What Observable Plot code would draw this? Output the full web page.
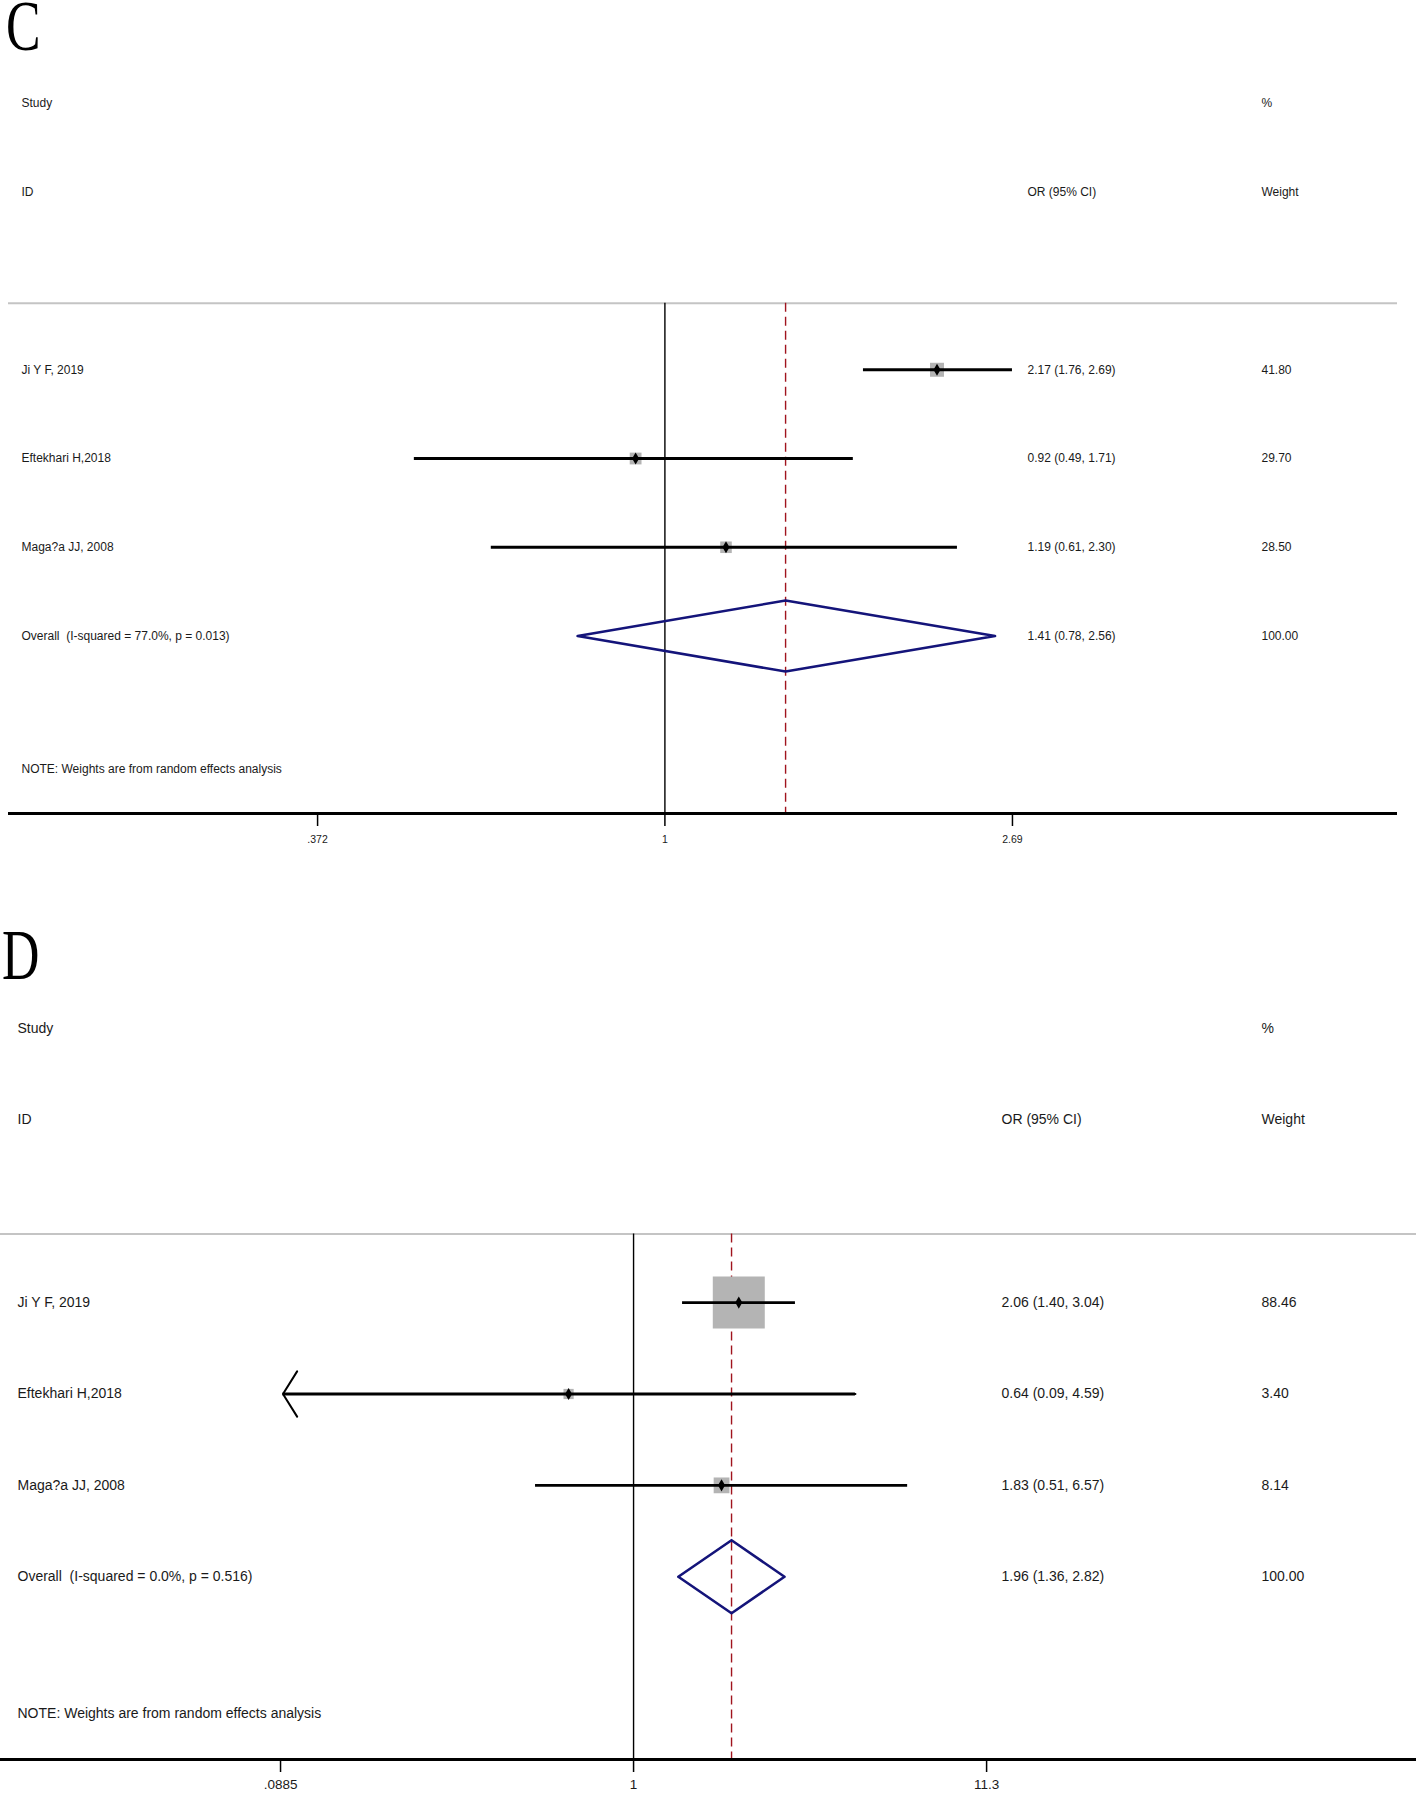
<!DOCTYPE html>
<html><head><meta charset="utf-8">
<script src="https://cdn.jsdelivr.net/npm/d3@7"></script>
<script src="https://cdn.jsdelivr.net/npm/@observablehq/plot@0.6"></script>
<style>
body{margin:0;background:#fff;}
.panel{position:relative;width:1418px;}
.letter{position:absolute;font-family:"Liberation Serif","Times New Roman",serif;font-size:72px;line-height:52px;color:#000;transform:scaleX(0.72);transform-origin:left top;}
svg{display:block}
</style></head><body>
<div id="c" class="panel"><div class="letter" style="left:6px;top:0px">C</div></div>
<div id="d" class="panel"><div class="letter" style="left:2px;top:59.4px">D</div></div>
<script>
// ---------- data ----------
const studies = ["Ji Y F, 2019", "Eftekhari H,2018", "Maga?a JJ, 2008"];

// Panel C
const orC = [2.17, 0.92, 1.19];
const loC = [1.76, 0.49, 0.61];
const hiC = [2.69, 1.71, 2.30];
const weightC = [41.80, 29.70, 28.50];
const overallC = [1.41, 0.78, 2.56];
const overallLabelC = "Overall  (I-squared = 77.0%, p = 0.013)";
const ticksC = [0.372, 1, 2.69];
const tickLabelsC = [".372", "1", "2.69"];
const offscaleC = [false, false, false];

// Panel D
const orD = [2.06, 0.64, 1.83];
const loD = [1.40, 0.09, 0.51];
const hiD = [3.04, 4.59, 6.57];
const weightD = [88.46, 3.40, 8.14];
const overallD = [1.96, 1.36, 2.82];
const overallLabelD = "Overall  (I-squared = 0.0%, p = 0.516)";
const ticksD = [0.0885, 1, 11.3];
const tickLabelsD = [".0885", "1", "11.3"];
const offscaleD = [false, true, false];

const noteText = "NOTE: Weights are from random effects analysis";

// ---------- chart ----------
function forest(cfg) {
  const rows = studies.map((s, i) => ({row: i + 1, label: s, or: cfg.or[i], lo: cfg.lo[i], hi: cfg.hi[i], w: cfg.w[i], off: cfg.off[i]}));
  const ov = {row: rows.length + 1, label: cfg.overallLabel, or: cfg.overall[0], lo: cfg.overall[1], hi: cfg.overall[2], w: 100};
  const textRows = [...rows, ov];
  const diamond = [[ov.lo, ov.row], [ov.or, ov.row - cfg.dh], [ov.hi, ov.row], [ov.or, ov.row + cfg.dh], [ov.lo, ov.row]]
    .map(([x, y]) => ({x, y}));
  const tickData = cfg.ticks.map((v, i) => ({v, label: cfg.tickLabels[i]}));
  const fmt = v => v.toFixed(2);
  const headerA = -2, headerB = -1, lineY = 0.25, noteY = 5.5, axisY = 6;
  const txt = {frameAnchor: "left", textAnchor: "start", fill: "#1a1a1a", fontSize: cfg.fs};
  return Plot.plot({
    width: 1418, height: cfg.height,
    marginLeft: cfg.ml, marginRight: cfg.mr, marginTop: 0, marginBottom: cfg.height - cfg.axisPx,
    style: {fontFamily: '"Liberation Sans", Arial, sans-serif', fontSize: cfg.fs + "px", color: "#000", background: "#fff", overflow: "visible"},
    x: {type: "log", domain: cfg.xdom, axis: null},
    y: {domain: [axisY, cfg.ytop], axis: null},
    r: {type: "sqrt", domain: [0, cfg.wref], range: [0, cfg.rref]},
    marks: [
      Plot.ruleY([lineY], {stroke: "#c4c4c4", strokeWidth: 2}),
      Plot.ruleX([1], {y1: lineY, y2: axisY, stroke: "#000", strokeWidth: 1.4}),
      Plot.ruleX([ov.or], {y1: lineY, y2: axisY, stroke: "#a0141e", strokeWidth: 1.4, strokeDasharray: "9,5"}),
      Plot.dot(rows, {x: "or", y: "row", r: "w", symbol: "square", fill: "#b4b4b4"}),
      Plot.ruleY(rows, {y: "row", x1: "lo", x2: "hi", stroke: "#000", strokeWidth: 2.8}),
      Plot.arrow(rows.filter(d => d.off), {x1: "hi", x2: "lo", y1: "row", y2: "row", headLength: 20, headAngle: 116, stroke: "#000", strokeWidth: 2}),
      Plot.dot(rows, {x: "or", y: "row", r: 3.7, symbol: "diamond", fill: "#000"}),
      Plot.line(diamond, {x: "x", y: "y", stroke: "#14147a", strokeWidth: 2.6}),
      Plot.ruleY([axisY], {stroke: "#000", strokeWidth: 3}),
      Plot.axisX(cfg.ticks, {anchor: "bottom", tickSize: 13, strokeWidth: 1.5, tickFormat: () => ""}),
      Plot.text(tickData, {x: "v", y: () => axisY, text: "label", dy: cfg.tickDy, fontSize: cfg.tfs, fill: "#1a1a1a", textAnchor: "middle"}),
      // left column
      Plot.text(textRows, {...txt, y: "row", text: "label", dx: cfg.dxLabel}),
      Plot.text([{t: "Study", y: headerA}, {t: "ID", y: headerB}, {t: noteText, y: noteY}], {...txt, y: "y", text: "t", dx: cfg.dxLabel}),
      // OR column
      Plot.text(textRows, {...txt, y: "row", text: d => `${fmt(d.or)} (${fmt(d.lo)}, ${fmt(d.hi)})`, dx: cfg.dxOr}),
      Plot.text([{t: "OR (95% CI)", y: headerB}], {...txt, y: "y", text: "t", dx: cfg.dxOr}),
      // weight column
      Plot.text(textRows, {...txt, y: "row", text: d => fmt(d.w), dx: cfg.dxW}),
      Plot.text([{t: "%", y: headerA}, {t: "Weight", y: headerB}], {...txt, y: "y", text: "t", dx: cfg.dxW})
    ]
  });
}

const chartC = forest({
  or: orC, lo: loC, hi: hiC, w: weightC, off: offscaleC, overall: overallC, overallLabel: overallLabelC,
  ticks: ticksC, tickLabels: tickLabelsC,
  height: 870, axisPx: 813, ml: 8, mr: 21, xdom: [0.1543, 8.051], ytop: -3.161,
  fs: 12, tfs: 10.5, tickDy: 26, dxLabel: 13, dxOr: 1019, dxW: 1253, wref: 41.8, rref: 7.9, dh: 0.4
});
document.getElementById("c").appendChild(chartC);

const chartD = forest({
  or: orD, lo: loD, hi: hiD, w: weightD, off: offscaleD, overall: overallD, overallLabel: overallLabelD,
  ticks: ticksD, tickLabels: tickLabelsD,
  height: 923, axisPx: 889, ml: 0, mr: 2, xdom: [0.01293, 216.5], ytop: -3.729,
  fs: 14, tfs: 13.5, tickDy: 25, dxLabel: 17, dxOr: 1001, dxW: 1261, wref: 88.46, rref: 29.34, dh: 0.4
});
document.getElementById("d").appendChild(chartD);
</script>
</body></html>
